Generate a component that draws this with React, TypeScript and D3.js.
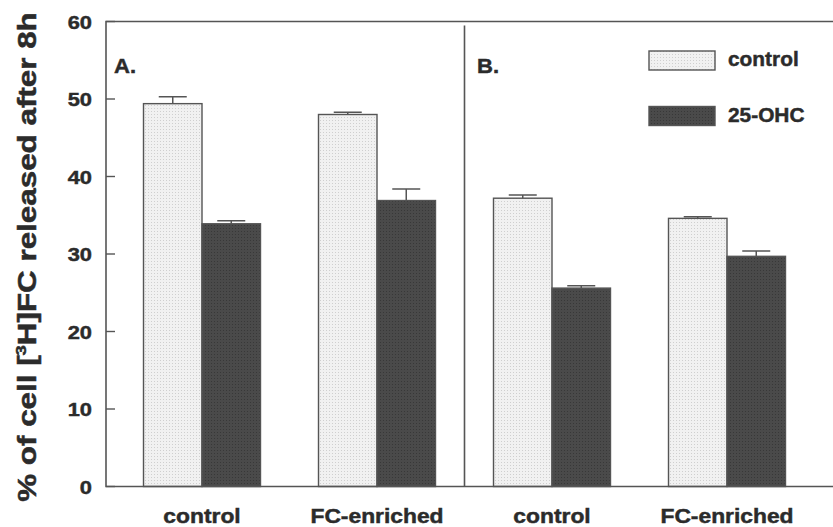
import React, { useEffect, useRef } from 'react';
import * as d3 from 'd3';

// groups along the x axis (panel A: first two, panel B: last two)
const groupKeys = ['A-control', 'A-fc', 'B-control', 'B-fc'];
const groupLabels = ['control', 'FC-enriched', 'control', 'FC-enriched'];
const panelLabels = ['A.', 'B.'];

const seriesNames = ['control', '25-OHC'];
const controlValues = [49.4, 48.0, 37.2, 34.6];
const controlErrors = [0.9, 0.3, 0.4, 0.2];
const ohcValues = [33.9, 36.9, 25.6, 29.7];
const ohcErrors = [0.4, 1.5, 0.3, 0.7];

const yTicks = [0, 10, 20, 30, 40, 50, 60];

const W = 833;
const H = 527;
const margin = { left: 106, top: 21.5, right: 0, bottom: 40.5 };
const FONT = '"Liberation Sans", Arial, Helvetica, sans-serif';
const INK = '#2b2b2b';
const LINE = '#555';

const App = () => {
  const svgRef = useRef<SVGSVGElement>(null);

  useEffect(() => {
    const svg = d3.select(svgRef.current);
    svg.selectAll('*').remove();

    const plotBottom = H - margin.bottom;
    const plotRight = W - margin.right;

    const y = d3.scaleLinear().domain([0, 60]).range([plotBottom, margin.top]);
    const x = d3.scalePoint().domain(groupKeys).range([202, 727]);
    const xs = d3.scaleBand().domain(seriesNames).range([-58.5, 58.5]);

    // fill textures
    const defs = svg.append('defs');
    const light = defs
      .append('pattern')
      .attr('id', 'dotsLight')
      .attr('width', 3)
      .attr('height', 3)
      .attr('patternUnits', 'userSpaceOnUse');
    light.append('rect').attr('width', 3).attr('height', 3).attr('fill', '#f1f1f1');
    light.append('rect').attr('width', 1).attr('height', 1).attr('fill', '#cfcfcf');
    const dark = defs
      .append('pattern')
      .attr('id', 'dotsDark')
      .attr('width', 3)
      .attr('height', 3)
      .attr('patternUnits', 'userSpaceOnUse');
    dark.append('rect').attr('width', 3).attr('height', 3).attr('fill', '#4a4a4a');
    dark.append('rect').attr('width', 1).attr('height', 1).attr('fill', '#383838');

    const fills = ['url(#dotsLight)', 'url(#dotsDark)'];

    const stretchText = (
      g: any,
      tx: number,
      ty: number,
      txt: string,
      size: number,
      sx: number,
      anchor: string
    ) =>
      g
        .append('text')
        .attr('transform', `translate(${tx},${ty}) scale(${sx},1)`)
        .attr('text-anchor', anchor)
        .attr('font-family', FONT)
        .attr('font-weight', 'bold')
        .attr('font-size', size)
        .attr('fill', INK)
        .attr('stroke', INK)
        .attr('stroke-width', 0.45)
        .text(txt);

    // bars
    const rows = groupKeys.map((k, i) => ({
      key: k,
      values: [
        { s: seriesNames[0], v: controlValues[i], e: controlErrors[i] },
        { s: seriesNames[1], v: ohcValues[i], e: ohcErrors[i] },
      ],
    }));

    const grp = svg
      .append('g')
      .selectAll('g')
      .data(rows)
      .enter()
      .append('g')
      .attr('transform', (d) => `translate(${x(d.key)},0)`);

    // error bars (drawn first so bar outline sits on top)
    grp
      .selectAll('.err')
      .data((d) => d.values)
      .enter()
      .append('path')
      .attr('class', 'err')
      .attr('fill', 'none')
      .attr('stroke', LINE)
      .attr('stroke-width', 1.5)
      .attr('d', (d) => {
        const cx = (xs(d.s) as number) + xs.bandwidth() / 2;
        return `M${cx},${y(d.v)}V${y(d.v + d.e)}M${cx - 14},${y(d.v + d.e)}H${cx + 14}`;
      });

    grp
      .selectAll('.bar')
      .data((d) => d.values)
      .enter()
      .append('rect')
      .attr('class', 'bar')
      .attr('x', (d) => xs(d.s) as number)
      .attr('y', (d) => y(d.v))
      .attr('width', xs.bandwidth())
      .attr('height', (d) => plotBottom - y(d.v))
      .attr('fill', (d, i) => fills[i])
      .attr('stroke', LINE)
      .attr('stroke-width', 1.4);

    // frame: left axis, top line, bottom line, panel divider
    const divX = ((x(groupKeys[1]) as number) + (x(groupKeys[2]) as number)) / 2;
    svg
      .append('path')
      .attr('fill', 'none')
      .attr('stroke', LINE)
      .attr('stroke-width', 1.6)
      .attr('d', `M${plotRight},${margin.top}H${margin.left}V${plotBottom}H${plotRight}`);
    svg
      .append('line')
      .attr('x1', divX)
      .attr('x2', divX)
      .attr('y1', margin.top + 4)
      .attr('y2', plotBottom)
      .attr('stroke', LINE)
      .attr('stroke-width', 1.6);

    // y ticks and labels
    const yAxis = svg.append('g');
    yTicks.forEach((t) => {
      yAxis
        .append('line')
        .attr('x1', margin.left)
        .attr('x2', margin.left + 9)
        .attr('y1', y(t))
        .attr('y2', y(t))
        .attr('stroke', LINE)
        .attr('stroke-width', 1.4);
      stretchText(yAxis, 92, y(t) + 7, String(t), 19, 1.15, 'end');
    });

    // y title with superscript
    const title = svg
      .append('text')
      .attr('transform', `translate(36,257) rotate(-90) scale(1.23,1)`)
      .attr('text-anchor', 'middle')
      .attr('font-family', FONT)
      .attr('font-weight', 'bold')
      .attr('font-size', 25.5)
      .attr('fill', INK)
      .attr('stroke', INK)
      .attr('stroke-width', 0.5);
    title.append('tspan').text('% of cell [');
    title.append('tspan').attr('font-size', 15).attr('dy', -10).text('3');
    title.append('tspan').attr('dy', 10).text('H]FC released after 8h');

    // x labels
    groupKeys.forEach((k, i) => {
      stretchText(svg, x(k) as number, 523, groupLabels[i], 19.5, 1.17, 'middle');
    });

    // panel labels
    stretchText(svg, 114, 73, panelLabels[0], 21, 1.05, 'start');
    stretchText(svg, 477, 73, panelLabels[1], 21, 1.05, 'start');

    // legend
    const legend = svg.append('g');
    seriesNames.forEach((s, i) => {
      const ly = 51 + i * 55.5;
      legend
        .append('rect')
        .attr('x', 649)
        .attr('y', ly)
        .attr('width', 66)
        .attr('height', 19)
        .attr('fill', fills[i])
        .attr('stroke', LINE)
        .attr('stroke-width', 1.4);
      stretchText(legend, 728, ly + 15, s, 19.5, 1.07, 'start');
    });
  }, []);

  return (
    <svg
      ref={svgRef}
      width={W}
      height={H}
      style={{ position: 'absolute', left: 0, top: 0, background: '#fff' }}
    ></svg>
  );
};

export default App;
